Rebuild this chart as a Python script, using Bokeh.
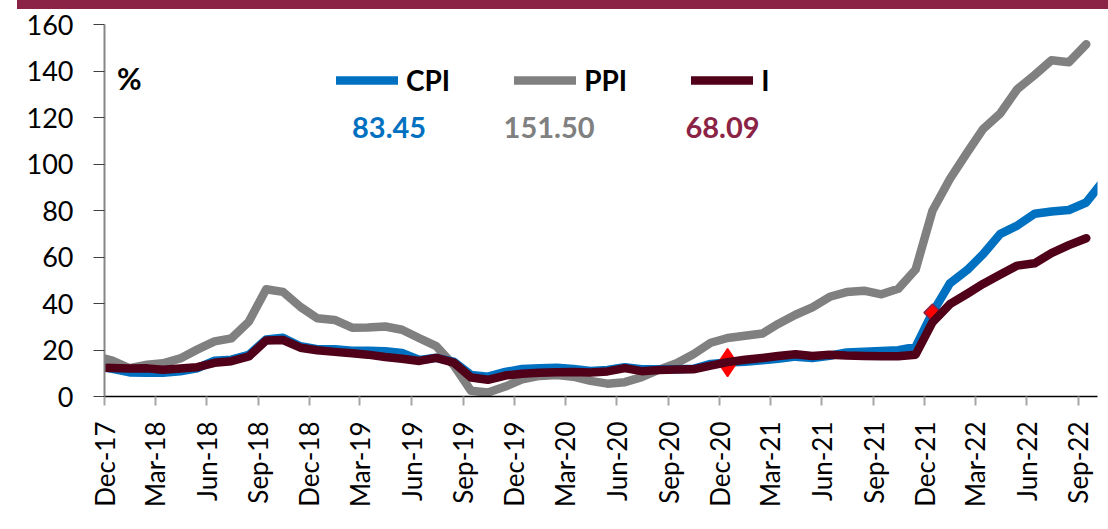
import numpy as np
import pandas as pd
from bokeh.plotting import figure
from bokeh.layouts import column
from bokeh.models import (Range1d, FixedTicker, DatetimeTickFormatter, Legend, LegendItem,
                          Label, ColumnDataSource, Div)
from bokeh.embed import file_html
from bokeh.resources import INLINE

# ---------------- data (annual % change, monthly, Nov-17 .. Oct-22) ----------------
first_month = "2017-11"
cpi = [12.98, 11.92,
       10.35, 10.26, 10.23, 10.85, 12.15, 15.39, 15.85, 17.90, 24.52, 25.24, 21.62, 20.30,
       20.35, 19.67, 19.71, 19.50, 18.71, 15.72, 16.65, 15.01, 9.26, 8.55, 10.56, 11.84,
       12.15, 12.37, 11.86, 10.94, 11.39, 12.62, 11.76, 11.77, 11.75, 11.89, 14.03, 14.60,
       14.97, 15.61, 16.19, 17.14, 16.59, 17.53, 18.95, 19.25, 19.58, 19.89, 21.31, 36.08,
       48.69, 54.44, 61.14, 69.97, 73.50, 78.62, 79.60, 80.21, 83.45, 92.6]
ppi = [17.30, 15.47,
       12.14, 13.71, 14.28, 16.37, 20.16, 23.71, 25.00, 32.13, 46.15, 45.01, 38.54, 33.64,
       32.93, 29.59, 29.64, 30.12, 28.71, 25.04, 21.66, 13.45, 2.45, 1.70, 4.26, 7.36,
       8.84, 9.26, 8.50, 6.71, 5.53, 6.17, 8.33, 11.53, 14.33, 18.20, 23.11, 25.15,
       26.16, 27.09, 31.20, 35.17, 38.33, 42.89, 44.92, 45.52, 43.96, 46.31, 54.62, 79.89,
       93.53, 105.01, 114.97, 121.82, 132.16, 138.31, 144.61, 143.75, 151.50, None]
core_i = [12.4, 12.3,
          12.0, 12.1, 11.5, 12.0, 12.6, 14.5, 15.2, 17.2, 24.1, 24.3, 21.0, 19.9,
          19.2, 18.6, 18.0, 17.0, 16.2, 15.3, 16.6, 14.6, 8.2, 7.2, 9.0, 9.8,
          10.2, 10.4, 10.5, 10.3, 10.8, 12.2, 10.9, 11.4, 11.6, 11.7, 13.3, 14.8,
          15.8, 16.6, 17.4, 18.2, 17.4, 18.0, 17.6, 17.4, 17.3, 17.3, 18.0, 31.9,
          39.7, 44.2, 48.4, 52.5, 56.3, 57.3, 61.7, 65.1, 68.09, None]
highlight_months = ["2020-12", "2021-12"]
latest = {"CPI": "83.45", "PPI": "151.50", "I": "68.09"}
tick_months = pd.date_range("2017-12-01", "2022-09-01", freq="3MS")
y_ticks = list(range(0, 161, 20))

# ---------------- derived ----------------
month_starts = pd.date_range(first_month + "-01", periods=len(cpi), freq="MS")
dates = month_starts + pd.Timedelta(days=14)   # plotted mid-month
to_nan = lambda a: np.array([np.nan if v is None else v for v in a], dtype=float)
src = ColumnDataSource(dict(x=dates, cpi=to_nan(cpi), ppi=to_nan(ppi), i=to_nan(core_i)))

hl_idx = [list(month_starts.strftime("%Y-%m")).index(m) for m in highlight_months]
hl = ColumnDataSource(dict(
    x=[dates[k] for k in hl_idx], y=[cpi[k] for k in hl_idx],
    marker=["diamond", "square"], size=[28, 12], angle=[0.0, np.pi / 4],
    line_color=["#FF0000", "#8B2346"]))

def ms(ts):
    return pd.Timestamp(ts).value / 1e6

FONT = "Lato"
BANNER = "#8B2346"
p = figure(x_axis_type="datetime",
           x_range=Range1d(pd.Timestamp("2017-12-01"), pd.Timestamp("2022-10-05")),
           y_range=Range1d(0, 160),
           frame_width=993, frame_height=372,
           min_border_left=104, min_border_right=11, min_border_top=15, min_border_bottom=133,
           output_backend="svg", toolbar_location=None)
p.outline_line_color = None
p.xgrid.grid_line_color = None
p.ygrid.grid_line_color = None
p.background_fill_color = "white"
p.border_fill_color = "white"

# x axis
p.xaxis.ticker = FixedTicker(ticks=[ms(t) for t in tick_months])
fmt = "%b-%y"
p.xaxis.formatter = DatetimeTickFormatter(days=fmt, months=fmt, years=fmt, hours=fmt,
                                          minutes=fmt, seconds=fmt, milliseconds=fmt,
                                          microseconds=fmt, hourmin=fmt, minsec=fmt)
p.xaxis.major_label_orientation = np.pi / 2
p.xaxis.major_tick_out = 9
p.xaxis.major_tick_in = 0
p.xaxis.minor_tick_line_color = None
p.xaxis.major_tick_line_color = "#A6A6A6"
p.xaxis.major_tick_line_width = 2
p.xaxis.axis_line_color = "black"
p.xaxis.axis_line_width = 1.5
p.xaxis.major_label_text_font = FONT
p.xaxis.major_label_text_font_size = "26px"
p.xaxis.major_label_text_color = "black"
p.xaxis.major_label_standoff = 16

# y axis
p.yaxis.ticker = FixedTicker(ticks=y_ticks)
p.yaxis.major_tick_out = 11
p.yaxis.major_tick_in = 0
p.yaxis.minor_tick_line_color = None
p.yaxis.major_tick_line_color = "#404040"
p.yaxis.major_tick_line_width = 1
p.yaxis.axis_line_color = "#868686"
p.yaxis.axis_line_width = 2
p.yaxis.major_label_text_font = FONT
p.yaxis.major_label_text_font_size = "27px"
p.yaxis.major_label_text_color = "black"
p.yaxis.major_label_standoff = 20

lw = 8.5
r_ppi = p.line("x", "ppi", source=src, line_color="#808080", line_width=lw,
               line_cap="round", line_join="round")
r_cpi = p.line("x", "cpi", source=src, line_color="#0070C0", line_width=lw,
               line_cap="round", line_join="round")
p.scatter("x", "y", source=hl, marker="marker", size="size", angle="angle",
          fill_color="#FF0000", line_color="line_color", line_width=1.5)
r_i = p.line("x", "i", source=src, line_color="#500018", line_width=lw,
             line_cap="round", line_join="round")

legend = Legend(items=[LegendItem(label="CPI", renderers=[r_cpi]),
                       LegendItem(label="PPI", renderers=[r_ppi]),
                       LegendItem(label="I", renderers=[r_i])],
                orientation="horizontal", location=(232, 299),
                glyph_width=62, glyph_height=30, label_height=30, label_standoff=8,
                spacing=64, padding=0, margin=0,
                border_line_color=None, background_fill_alpha=0,
                label_text_font=FONT, label_text_font_style="bold",
                label_text_font_size="28px", label_text_color="black")
p.add_layout(legend)

for txt, xd, col in [(latest["CPI"], "2019-04-22", "#0070C0"),
                     (latest["PPI"], "2020-02-01", "#808080"),
                     (latest["I"], "2020-12-06", BANNER)]:
    p.add_layout(Label(x=ms(xd), y=115.5, text=txt, text_align="center",
                       text_baseline="middle", text_font=FONT, text_font_style="bold",
                       text_font_size="29px", text_color=col))
p.add_layout(Label(x=ms("2018-01-14"), y=137.2, text="%", text_align="center",
                   text_baseline="middle", text_font=FONT, text_font_style="bold",
                   text_font_size="30px", text_color="black"))

banner = Div(text="", width=1091, height=9, margin=(0, 0, 0, 17),
             styles={"background-color": BANNER})
layout = column(banner, p, spacing=0)

open("out.html", "w").write(file_html(layout, INLINE))
